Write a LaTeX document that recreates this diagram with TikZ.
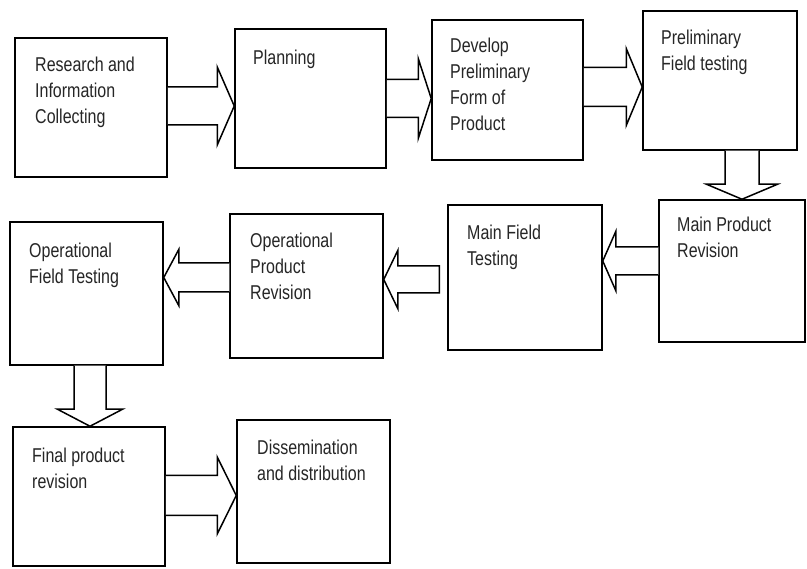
\documentclass[tikz,border=0pt]{standalone}
\usepackage{fontspec}
\setmainfont{Liberation Sans}[FakeStretch=0.8]
\usetikzlibrary{calc,fit}
\tikzset{
  box/.style={draw=black, line width=1.5pt, inner sep=0pt, fill=white},
  lbl/.style={anchor=north west, inner sep=0pt, align=left, text=black!85,
    font=\fontsize{20}{26}\selectfont},
  arr/.style={draw=black, line width=1.5pt, line join=miter, fill=white}
}
% right-pointing block arrow: from, to, dy, half shaft, half head, head length
\newcommand\rarrow[6]{\draw[arr] let \p1=(#1.east), \p2=(#2.west) in
 ({\x1},{\y1+#3+#4}) -- ({\x2-#6},{\y1+#3+#4}) -- ({\x2-#6},{\y1+#3+#5}) -- ({\x2},{\y1+#3})
 -- ({\x2-#6},{\y1+#3-#5}) -- ({\x2-#6},{\y1+#3-#4}) -- ({\x1},{\y1+#3-#4});}
% left-pointing block arrow: from, to, dy, half shaft, half head, head length
\newcommand\larrow[6]{\draw[arr] let \p1=(#1.west), \p2=(#2.east) in
 ({\x1},{\y1+#3+#4}) -- ({\x2+#6},{\y1+#3+#4}) -- ({\x2+#6},{\y1+#3+#5}) -- ({\x2},{\y1+#3})
 -- ({\x2+#6},{\y1+#3-#5}) -- ({\x2+#6},{\y1+#3-#4}) -- ({\x1},{\y1+#3-#4});}
% closed left-pointing block arrow with a gap at its base: from, to, dy, half shaft, half head, head length, gap
\newcommand\larrowc[7]{\draw[arr] let \p1=(#1.west), \p2=(#2.east) in
 ({\x1-#7},{\y1+#3+#4}) -- ({\x2+#6},{\y1+#3+#4}) -- ({\x2+#6},{\y1+#3+#5}) -- ({\x2},{\y1+#3})
 -- ({\x2+#6},{\y1+#3-#5}) -- ({\x2+#6},{\y1+#3-#4}) -- ({\x1-#7},{\y1+#3-#4}) -- cycle;}
% down-pointing block arrow: from, to, dx, half shaft, half head, head length
\newcommand\darrow[6]{\draw[arr] let \p1=(#1.south), \p2=(#2.north) in
 ({\x1+#3-#4},{\y1}) -- ({\x1+#3-#4},{\y2+#6}) -- ({\x1+#3-#5},{\y2+#6}) -- ({\x1+#3},{\y2})
 -- ({\x1+#3+#5},{\y2+#6}) -- ({\x1+#3+#4},{\y2+#6}) -- ({\x1+#3+#4},{\y1});}
\begin{document}
\begin{tikzpicture}[x=1pt,y=-1pt]
\useasboundingbox[fill=white] (0,0) rectangle (807,569);
% boxes
\node[box, fit={(15,38) (167,177)}] (b1) {};
\node[box, fit={(235,29) (386,168)}] (b2) {};
\node[box, fit={(432,20) (583,160)}] (b3) {};
\node[box, fit={(643,11) (797,150)}] (b4) {};
\node[box, fit={(659,200) (805,342)}] (b5) {};
\node[box, fit={(448,205) (602,350)}] (b6) {};
\node[box, fit={(230,214) (383,358)}] (b7) {};
\node[box, fit={(10,222) (163,365)}] (b8) {};
\node[box, fit={(13,427) (165,566)}] (b9) {};
\node[box, fit={(237,420) (390,563)}] (b10) {};
% labels
\node[lbl] (t1) at (35,57) {Research and\\Information\\Collecting};
\node[lbl] (t2) at (253,50) {Planning};
\node[lbl] (t3) at (450,38) {Develop\\Preliminary\\Form of\\Product};
\node[lbl] (t4) at (661,30) {Preliminary\\Field testing};
\node[lbl] (t5) at (677,217) {Main Product\\Revision};
\node[lbl] (t6) at (467,225) {Main Field\\Testing};
\node[lbl] (t7) at (250,233) {Operational\\Product\\Revision};
\node[lbl] (t8) at (29,243) {Operational\\Field Testing};
\node[lbl] (t9) at (32,448) {Final product\\revision};
\node[lbl] (t10) at (257,440) {Dissemination\\and distribution};
% block arrows
\rarrow{b1}{b2}{1.5pt}{19pt}{39pt}{17pt}
\rarrow{b2}{b3}{0pt}{19pt}{40pt}{13pt}
\rarrow{b3}{b4}{3pt}{19.5pt}{38.5pt}{16pt}
\darrow{b4}{b5}{22pt}{17pt}{35.5pt}{15pt}
\larrow{b5}{b6}{10pt}{14pt}{29.5pt}{13pt}
\larrowc{b6}{b7}{-2pt}{13.5pt}{29pt}{14pt}{8pt}
\larrow{b7}{b8}{8.5pt}{14.5pt}{28pt}{15pt}
\darrow{b8}{b9}{3.5pt}{16pt}{32.5pt}{17pt}
\rarrow{b9}{b10}{1pt}{20pt}{38.5pt}{19pt}
\end{tikzpicture}
\end{document}
